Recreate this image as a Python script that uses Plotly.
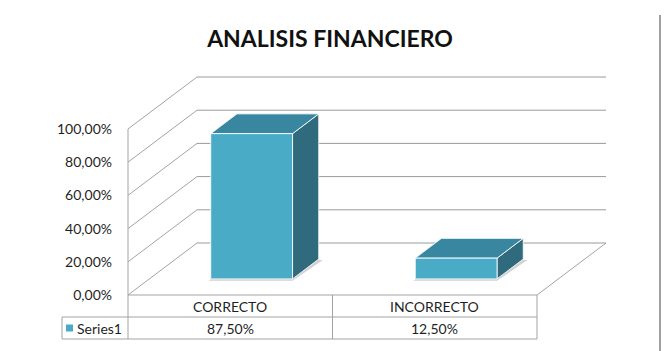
import plotly.graph_objects as go

# ---------------- data ----------------
categories = ["CORRECTO", "INCORRECTO"]
values = [87.5, 12.5]
series_name = "Series1"
tick_values = [0, 20, 40, 60, 80, 100]
tick_labels = ["0,00%", "20,00%", "40,00%", "60,00%", "80,00%", "100,00%"]
title_text = "ANALISIS FINANCIERO"

# ---------------- layout / projection constants ----------------
W, H = 665, 351
ML, MR, MT, MB = 40, 5, 55, 3
SX = 204.5          # px per category unit
SY = 1.66           # px per percent unit
X0PX, Y0PX = 128, 295   # front-left-bottom corner of the floor (px)
DX = 69 / SX        # depth offset in x (category units)
DY = 52 / SY        # depth offset in y (percent units)
ROW = 22 / SY       # table row height in percent units
LEG_X = (62 - X0PX) / SX
BAR_HALF = 0.2
D_FRONT, D_BACK = 0.31, 0.69

FRONT = "#4aabc6"
TOP = "#3886a0"
SIDE = "#2f6b7d"
GRID = "#a3a3a3"
FONT = "Lato"
TXT = "#1f1f1f"
FS = 14

ncat = len(categories)
fig = go.Figure()


def line(xs, ys, color=GRID, width=1):
    fig.add_trace(go.Scatter(x=xs, y=ys, mode="lines", line=dict(color=color, width=width),
                             hoverinfo="skip", showlegend=False))


def poly(xs, ys, fill, lc="rgba(255,255,255,0.85)", lw=1):
    fig.add_trace(go.Scatter(x=xs + [xs[0]], y=ys + [ys[0]], mode="lines", fill="toself",
                             fillcolor=fill, line=dict(color=lc, width=lw),
                             hoverinfo="skip", showlegend=False))


# walls: side-wall gridlines and back-wall gridlines
for v in tick_values:
    line([0, DX], [v, v + DY])
    line([DX, ncat + DX], [v + DY, v + DY], color="#9a9a9a")
# front-left vertical edge
line([0, 0], [tick_values[-1], -2 * ROW])
# floor right edge
line([ncat, ncat + DX], [0, DY])

# table lines
line([0, ncat], [0, 0])
line([LEG_X, ncat], [-ROW, -ROW])
line([LEG_X, ncat], [-2 * ROW, -2 * ROW])
line([LEG_X, LEG_X], [-ROW, -2 * ROW])
for i in range(1, ncat + 1):
    line([i, i], [0, -2 * ROW])

# bars
for i, v in enumerate(values):
    fx0 = i + 0.5 - BAR_HALF + D_FRONT * DX
    fx1 = i + 0.5 + BAR_HALF + D_FRONT * DX
    fy0 = D_FRONT * DY
    fy1 = v + D_FRONT * DY
    bdx = (D_BACK - D_FRONT) * DX
    bdy = (D_BACK - D_FRONT) * DY
    # shadow
    poly([fx0 - 0.01, fx1, fx1 + bdx + 0.02, fx0 + bdx],
         [fy0 - 1.2, fy0 - 1.2, fy0 + bdy - 0.5, fy0 + bdy],
         "rgba(0,0,0,0.18)", lc="rgba(0,0,0,0)", lw=0)
    # side face
    poly([fx1, fx1 + bdx, fx1 + bdx, fx1], [fy0, fy0 + bdy, fy1 + bdy, fy1], SIDE)
    # top face
    poly([fx0, fx1, fx1 + bdx, fx0 + bdx], [fy1, fy1, fy1 + bdy, fy1 + bdy], TOP)
    # front face
    poly([fx0, fx1, fx1, fx0], [fy0, fy0, fy1, fy1], FRONT)

# legend key in table
fig.add_trace(go.Scatter(x=[LEG_X + 7.5 / SX], y=[-1.5 * ROW], mode="markers",
                         marker=dict(symbol="square", size=7, color=FRONT),
                         hoverinfo="skip", showlegend=False))

annotations = []
for i, (c, v) in enumerate(zip(categories, values)):
    annotations.append(dict(x=i + 0.5, y=-0.5 * ROW, xref="x", yref="y", text=c,
                            showarrow=False, font=dict(family=FONT, size=FS, color=TXT)))
    annotations.append(dict(x=i + 0.5, y=-1.5 * ROW, xref="x", yref="y",
                            text=f"{v:.2f}".replace(".", ",") + "%",
                            showarrow=False, font=dict(family=FONT, size=FS, color=TXT)))
annotations.append(dict(x=LEG_X + 13 / SX, y=-1.5 * ROW, xref="x", yref="y", text=series_name,
                        xanchor="left", showarrow=False,
                        font=dict(family=FONT, size=FS, color=TXT)))

plot_w = W - ML - MR
plot_h = H - MT - MB
fig.update_layout(
    width=W, height=H,
    margin=dict(l=ML, r=MR, t=MT, b=MB),
    paper_bgcolor="white", plot_bgcolor="white",
    title=dict(text=title_text, x=330 / W, xanchor="center", y=1 - 39 / H, yanchor="middle",
               font=dict(family=FONT, size=23, color="#111111", weight="bold")),
    xaxis=dict(range=[(ML - X0PX) / SX, (W - MR - X0PX) / SX], visible=False, fixedrange=True),
    yaxis=dict(range=[(Y0PX - (H - MB)) / SY, (Y0PX - MT) / SY], anchor="free",
               position=(X0PX - ML) / plot_w, tickvals=tick_values, ticktext=tick_labels,
               showgrid=False, zeroline=False, showline=False, ticks="",
               ticklabelstandoff=16,
               tickfont=dict(family=FONT, size=FS, color=TXT), fixedrange=True),
    annotations=annotations,
    shapes=[dict(type="line", xref="paper", yref="paper", x0=1, x1=1,
                 y0=-MB / plot_h, y1=(H - MB - 15) / plot_h,
                 line=dict(color="#a0a0a0", width=2))],
)

fig.write_html("out.html")
